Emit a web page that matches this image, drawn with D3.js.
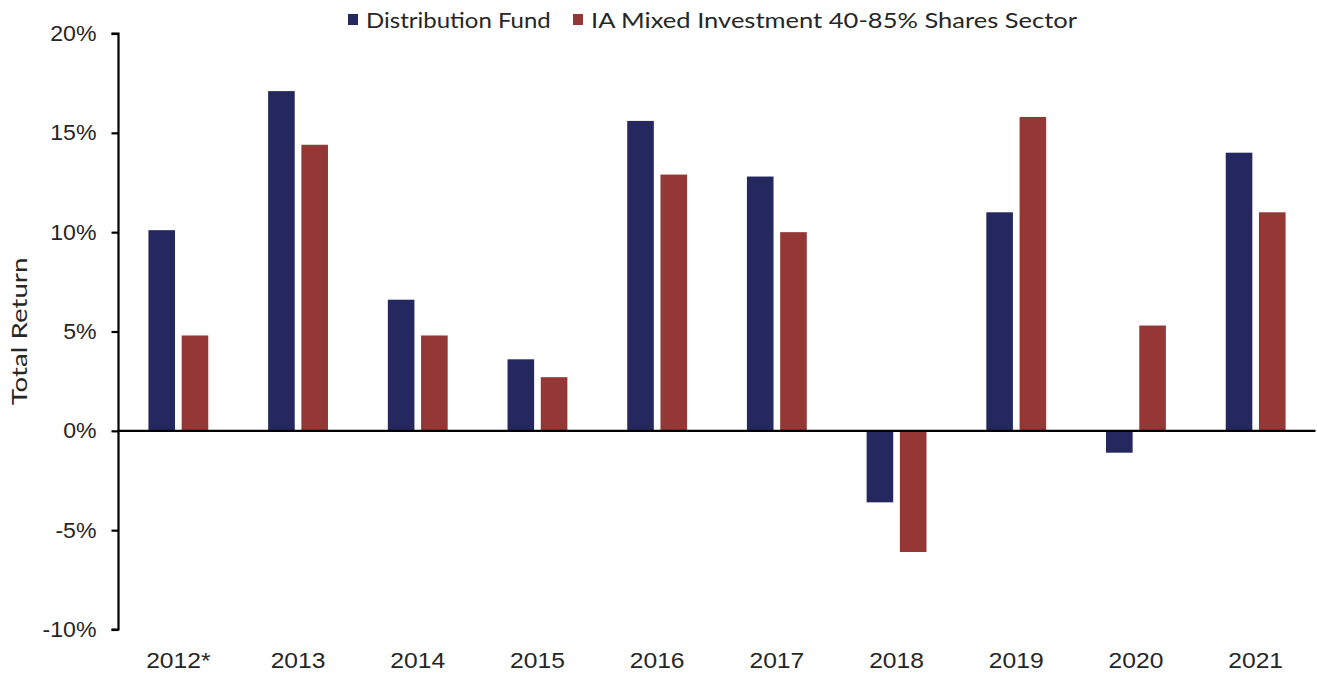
<!DOCTYPE html>
<html>
<head>
<meta charset="utf-8">
<script src="https://cdn.jsdelivr.net/npm/d3@7"></script>
<style>
  body { margin: 0; background: #fff; }
  svg { font-family: Lato, "Open Sans", sans-serif; }
</style>
</head>
<body>
<div id="chart"></div>
<script>
const years = ["2012*", "2013", "2014", "2015", "2016", "2017", "2018", "2019", "2020", "2021"];
const seriesNames = ["Distribution Fund", "IA Mixed Investment 40-85% Shares Sector"];
const fundReturns = [10.1, 17.1, 6.6, 3.6, 15.6, 12.8, -3.6, 11.0, -1.1, 14.0];
const sectorReturns = [4.8, 14.4, 4.8, 2.7, 12.9, 10.0, -6.1, 15.8, 5.3, 11.0];
const yTicks = [-10, -5, 0, 5, 10, 15, 20];

(function() {
  const width = 1317, height = 675;
  const margin = { left: 118.5, right: 1.5, top: 33.5, bottom: 45.5 };

  const colors = ["#24285e", "#943735"];
  const textColor = "#262626";

  const rows = years.map((yr, i) => ({ year: yr, values: [fundReturns[i], sectorReturns[i]] }));

  // the source font runs a bit wider than Lato, so stretch glyphs a little
  function widen(sel, factor) {
    sel.each(function() {
      const len = this.getComputedTextLength();
      d3.select(this)
        .attr("textLength", len * factor)
        .attr("lengthAdjust", "spacingAndGlyphs");
    });
  }

  const svg = d3.select("#chart").append("svg")
    .attr("width", width)
    .attr("height", height);

  const x0 = d3.scaleBand()
    .domain(years)
    .range([margin.left, width - margin.right])
    .paddingInner(0.5)
    .paddingOuter(0.25);

  const x1 = d3.scaleBand()
    .domain([0, 1])
    .range([0, x0.bandwidth()])
    .paddingInner(0.2);

  const y = d3.scaleLinear()
    .domain([-10, 20])
    .range([height - margin.bottom, margin.top]);

  // bars
  const groups = svg.append("g")
    .selectAll("g")
    .data(rows)
    .join("g")
    .attr("transform", d => `translate(${x0(d.year)},0)`);

  groups.selectAll("rect")
    .data(d => d.values.map((v, k) => ({ k, v })))
    .join("rect")
    .attr("x", d => x1(d.k))
    .attr("width", x1.bandwidth())
    .attr("y", d => y(Math.max(0, d.v)))
    .attr("height", d => Math.abs(y(d.v) - y(0)))
    .attr("fill", d => colors[d.k]);

  // y axis
  const yAxis = svg.append("g")
    .attr("transform", `translate(${margin.left},0)`)
    .call(d3.axisLeft(y).tickValues(yTicks).tickSize(7).tickPadding(15).tickFormat(d => d + "%"));
  yAxis.select(".domain").attr("stroke", "#000").attr("stroke-width", 2.2)
    .attr("d", `M-7,${y(20)}H0V${y(-10)}H-7`);
  yAxis.selectAll(".tick line").attr("stroke", "#000").attr("stroke-width", 2.2);
  yAxis.selectAll(".tick text")
    .attr("font-size", 22)
    .attr("fill", textColor)
    .call(widen, 1.05);

  // zero line
  svg.append("line")
    .attr("x1", margin.left)
    .attr("x2", width - margin.right)
    .attr("y1", y(0))
    .attr("y2", y(0))
    .attr("stroke", "#000")
    .attr("stroke-width", 2.2);

  // category labels
  const xAxis = svg.append("g")
    .attr("transform", `translate(0,${height - margin.bottom})`)
    .call(d3.axisBottom(x0).tickSize(0).tickPadding(23));
  xAxis.select(".domain").remove();
  xAxis.selectAll(".tick text")
    .attr("font-size", 22)
    .attr("fill", textColor)
    .call(widen, 1.12);

  // y title
  svg.append("text")
    .attr("transform", `translate(27,${y(5)}) rotate(-90)`)
    .attr("text-anchor", "middle")
    .attr("font-size", 22)
    .attr("fill", textColor)
    .text("Total Return")
    .call(widen, 1.26);

  // legend
  const legendX = [348, 573];
  const legendStretch = [1.09, 1.16];
  const legend = svg.append("g");
  seriesNames.forEach((name, k) => {
    legend.append("rect")
      .attr("x", legendX[k])
      .attr("y", 14)
      .attr("width", 10)
      .attr("height", 11)
      .attr("fill", colors[k]);
    legend.append("text")
      .attr("x", legendX[k] + 18)
      .attr("y", 28)
      .attr("font-size", 22)
      .attr("fill", textColor)
      .text(name)
      .call(widen, legendStretch[k]);
  });
})();
</script>
</body>
</html>
